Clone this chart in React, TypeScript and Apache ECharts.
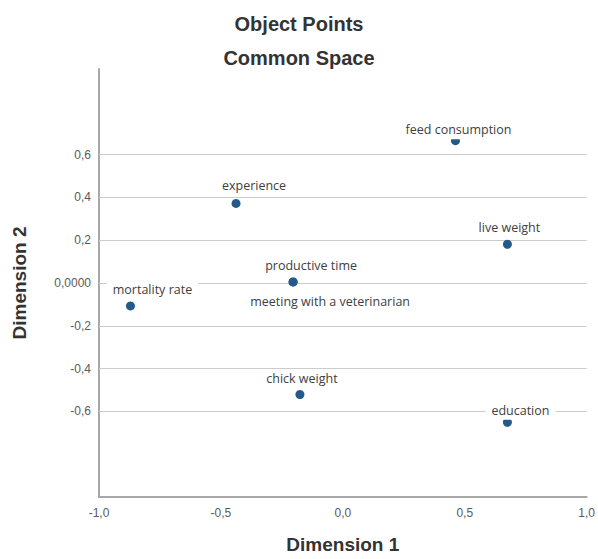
import React, { useEffect, useRef } from 'react';
import * as echarts from 'echarts';

// ---- data ----
const objectNames = [
  'feed consumption',
  'experience',
  'live weight',
  'productive time',
  'meeting with a veterinarian',
  'mortality rate',
  'chick weight',
  'education',
];
const dimension1 = [0.462, -0.438, 0.675, -0.204, -0.204, -0.871, -0.176, 0.675];
const dimension2 = [0.665, 0.372, 0.181, 0.005, 0.005, -0.107, -0.521, -0.651];
const gridLineValues = [-0.6, -0.4, -0.2, 0, 0.2, 0.4, 0.6];
const chartTitle = 'Object Points';
const chartSubtitle = 'Common Space';
const xAxisTitle = 'Dimension 1';
const yAxisTitle = 'Dimension 2';

// ---- label placement (style only) ----
const labelPosition: Record<string, string> = {
  'meeting with a veterinarian': 'bottom',
};
const labelShift: Record<string, number[]> = {
  'feed consumption': [3, 7],
  experience: [18, 0],
  'live weight': [2, 1],
  'productive time': [18, 2],
  'meeting with a veterinarian': [37, 2],
  'mortality rate': [22, 2],
  'chick weight': [2, 2],
  education: [13, 6],
};

const fmt = (v: number) => v.toFixed(1).replace('.', ',');

export default function App() {
  const ref = useRef<HTMLDivElement>(null);
  useEffect(() => {
    if (!ref.current) return;
    const chart = echarts.init(ref.current, undefined, { renderer: 'svg' });
    const points = objectNames.map((name, i) => ({
      name,
      value: [dimension1[i], dimension2[i]],
      label: { position: labelPosition[name] || 'top' },
    }));
    chart.setOption({
      animation: false,
      backgroundColor: '#ffffff',
      title: [
        {
          text: chartTitle,
          left: 'center',
          top: 9,
          textStyle: { fontFamily: 'Liberation Sans, Arial', fontWeight: 'bold', fontSize: 20, color: '#333333' },
        },
        {
          text: chartSubtitle,
          left: 'center',
          top: 43,
          textStyle: { fontFamily: 'Liberation Sans, Arial', fontWeight: 'bold', fontSize: 20, color: '#333333' },
        },
      ],
      grid: { left: 99, right: 11, top: 69, bottom: 54, containLabel: false },
      xAxis: {
        type: 'value',
        min: -1,
        max: 1,
        interval: 0.5,
        name: xAxisTitle,
        nameLocation: 'middle',
        nameGap: 38,
        nameTextStyle: { fontFamily: 'Liberation Sans, Arial', fontWeight: 'bold', fontSize: 19, color: '#333333' },
        axisLine: { show: true, onZero: false, lineStyle: { color: '#a8a8a8', width: 2 } },
        axisTick: { show: false },
        splitLine: { show: false },
        axisLabel: {
          formatter: fmt,
          margin: 10,
          fontFamily: 'Liberation Sans, Arial',
          fontSize: 12,
          color: '#5a5a5a',
        },
      },
      yAxis: {
        type: 'value',
        min: -1,
        max: 1,
        interval: 0.2,
        name: yAxisTitle,
        nameLocation: 'middle',
        nameRotate: 90,
        nameGap: 70,
        nameTextStyle: { fontFamily: 'Liberation Sans, Arial', fontWeight: 'bold', fontSize: 19, color: '#333333' },
        axisLine: { show: true, onZero: false, lineStyle: { color: '#a8a8a8', width: 2 } },
        axisTick: { show: false },
        splitLine: { show: false },
        axisLabel: {
          margin: 8,
          fontFamily: 'Liberation Sans, Arial',
          fontSize: 12,
          color: '#5a5a5a',
          formatter: (v: number) => {
            if (Math.abs(v) > 0.65) return '';
            if (Math.abs(v) < 1e-9) return '0,0000';
            return fmt(v);
          },
        },
      },
      series: [
        {
          type: 'scatter',
          z: 1,
          data: [],
          silent: true,
          markLine: {
            z: 1,
            silent: true,
            symbol: 'none',
            animation: false,
            label: { show: false },
            lineStyle: { color: '#cccccc', width: 1, type: 'solid' },
            emphasis: { disabled: true },
            data: gridLineValues.map((v) => ({ yAxis: v })),
          },
        },
        {
          type: 'scatter',
          z: 10,
          symbolSize: 9,
          itemStyle: { color: '#245a8a', opacity: 1 },
          label: {
            show: true,
            formatter: '{b}',
            fontFamily: 'Open Sans',
            fontSize: 12.5,
            color: '#404040',
            backgroundColor: '#ffffff',
            padding: [3, 6],
            distance: 4,
          },
          labelLayout: (params: any) => {
            const s = labelShift[objectNames[params.dataIndex]] || [0, 0];
            return { dx: s[0], dy: s[1], hideOverlap: false };
          },
          data: points,
        },
      ],
    });
    return () => chart.dispose();
  }, []);
  return (
    <div
      ref={ref}
      style={{ position: 'fixed', left: 0, top: 0, width: 598, height: 559 }}
    />
  );
}
